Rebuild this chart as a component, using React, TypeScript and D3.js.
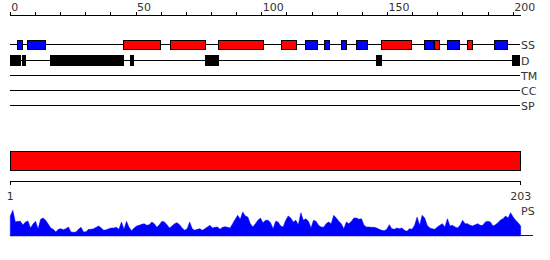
import React from 'react';
import * as d3 from 'd3';

// ---- data ----
const seqLength = 203;
const topTickLabels = [0, 50, 100, 150, 200];
const topMinorTicks = [0, 10, 20, 30, 40, 50, 60, 70, 80, 90, 100, 110, 120, 130, 140, 150, 160, 170, 180, 190, 200];
const bottomTickLabels = [1, 203];
const trackNames = ['SS', 'D', 'TM', 'CC', 'SP'];

const helixSegments: [number, number][] = [
  [44.9, 59.8], [63.6, 77.6], [82.7, 100.8], [107.7, 113.9], [147.6, 159.5], [168.7, 170.6], [181.8, 183.9],
];
const strandSegments: [number, number][] = [
  [2.8, 4.9], [6.8, 13.9], [117.6, 122], [124.8, 127], [131.7, 133.8], [137.6, 141.9],
  [164.6, 168.2], [173.8, 178.6], [192.5, 197.7],
];
const disorderSegments: [number, number][] = [
  [0, 4.3], [4.7, 6.1], [15.8, 45.2], [47.6, 49.1], [77.4, 82.9], [145.5, 147.7], [199.6, 202.7],
];
const domainSegments: [number, number][] = [[1, 203]];

const psScores = [
  20, 25.7, 14, 14.7, 14.7, 11, 14, 15, 8, 12, 14.7, 7, 16.7, 18, 15.7, 12, 8, 6.7, 4, 6.7,
  7.3, 6.3, 7.3, 9, 4, 3.7, 4, 6.7, 8.7, 4, 4.3, 6.7, 6.7, 7.3, 8.7, 10, 8, 5.7, 6.3, 7.3,
  8, 8, 8.7, 6.7, 14, 6.7, 14.7, 8.7, 5.3, 8, 10, 10.7, 11.7, 12.3, 10.7, 11.3, 14, 12.3, 8.7, 11.3,
  14.7, 14, 11.3, 8, 10, 12.3, 13.3, 11.3, 8, 5.7, 7.3, 14, 7.3, 5.7, 6.7, 7.3, 5.7, 7.3, 9, 10.7,
  8, 8.7, 9, 6.7, 8.7, 9.3, 8.7, 8, 12.3, 16.7, 20.7, 16.7, 24, 20, 19, 12.3, 9, 12.3, 15.7, 18,
  13.3, 15.7, 15.7, 13.3, 7.3, 14.7, 14, 10, 9, 15.7, 20, 18, 14, 15.7, 11.3, 23.3, 15.7, 17.3, 14.7, 8,
  15.7, 14.7, 10.7, 9, 8.7, 12.3, 14, 12.3, 20.7, 18, 14.7, 12.3, 7.3, 14, 12.3, 14.7, 18, 18, 16.7, 17.3,
  10.7, 9, 9, 8.7, 8.7, 8, 6.7, 5.7, 5.3, 6.7, 11.3, 7.3, 6.7, 8, 7.3, 8, 5.7, 4.7, 7.3, 6.7,
  10.7, 19, 10.7, 20.7, 18, 10.7, 8, 7.3, 6.7, 9, 10.7, 12.3, 9, 17.3, 10, 10.7, 9, 8, 10.7, 15.7,
  12.3, 12.3, 10.7, 10, 11.3, 12.3, 10.7, 10.7, 14, 14.7, 14, 10, 11.3, 13.3, 16, 17.3, 20, 18, 23.3, 19,
  15.7, 13.3, 10,
];

// ---- layout ----
const W = 550;
const H = 260;
const X0 = 10.3;
const X1 = 520.7;
const trackRows = [44.5, 60.5, 75.5, 90.5, 105.5];
const font = 'DejaVu Sans, sans-serif';
const textColor = '#333';

export default function App() {
  const xs = d3.scaleLinear().domain([0, seqLength]).range([X0, X1]);
  const xr = d3.scaleLinear().domain([1, seqLength]).range([X0, X1]);
  const yPS = d3.scaleLinear().domain([0, 26]).range([236, 210]);

  const area = d3
    .area<number>()
    .x((_, i) => xr(i + 1))
    .y0(yPS(0))
    .y1((d) => yPS(d))
    .curve(d3.curveLinear);

  const ssY = trackRows[0];
  const dY = trackRows[1];

  return (
    <svg width={W} height={H} style={{ position: 'absolute', left: 0, top: 0, display: 'block' }}>
      <rect x={0} y={0} width={W} height={H} fill="#fff" />
      {/* top axis */}
      <g shapeRendering="crispEdges">
        <line x1={X0} x2={X1} y1={15.5} y2={15.5} stroke="#000" />
        {topMinorTicks.map((t) => (
          <line key={t} x1={xs(t)} x2={xs(t)} y1={11.5} y2={15.5} stroke="#000" />
        ))}
      </g>
      {topTickLabels.map((t) => (
        <text key={t} x={xs(t) + 1} y={11} fontFamily={font} fontSize={11} fill={textColor}>
          {t}
        </text>
      ))}

      {/* track lines */}
      <g shapeRendering="crispEdges">
        {trackNames.map((n, i) => (
          <line key={n} x1={X0} x2={X1 - 0.5} y1={trackRows[i]} y2={trackRows[i]} stroke="#000" />
        ))}
        {strandSegments.map(([s, e], i) => (
          <rect key={'b' + i} x={xs(s)} y={ssY - 4} width={xs(e) - xs(s)} height={9} fill="#0000ff" stroke="#000" />
        ))}
        {helixSegments.map(([s, e], i) => (
          <rect key={'r' + i} x={xs(s)} y={ssY - 4} width={xs(e) - xs(s)} height={9} fill="#ff0000" stroke="#000" />
        ))}
        {disorderSegments.map(([s, e], i) => (
          <rect key={'d' + i} x={xs(s)} y={dY - 5.5} width={xs(e) - xs(s)} height={10.5} fill="#000" />
        ))}
      </g>
      {trackNames.map((n, i) => (
        <text key={n} x={521} y={trackRows[i] + 4} fontFamily={font} fontSize={11} fill={textColor}>
          {n}
        </text>
      ))}

      {/* domain bar */}
      <g shapeRendering="crispEdges">
        {domainSegments.map(([s, e], i) => (
          <rect key={i} x={xr(s)} y={151} width={xr(e) - xr(s)} height={19} fill="#ff0000" stroke="#000" />
        ))}
        <line x1={X0} x2={X1} y1={181} y2={181} stroke="#000" />
        {bottomTickLabels.map((t) => (
          <line key={t} x1={xr(t)} x2={xr(t)} y1={181} y2={185} stroke="#000" />
        ))}
      </g>
      {bottomTickLabels.map((t) => (
        <text key={t} x={xr(t)} y={200} textAnchor="middle" fontFamily={font} fontSize={11} fill={textColor}>
          {t}
        </text>
      ))}

      {/* PS profile */}
      <path d={area(psScores) || ''} fill="#0000ff" stroke="#0000ff" strokeWidth={0.5} />
      <line x1={X0} x2={533} y1={235.5} y2={235.5} stroke="#0000ff" shapeRendering="crispEdges" />
      <text x={521} y={215} fontFamily={font} fontSize={11} fill={textColor}>
        PS
      </text>
    </svg>
  );
}
